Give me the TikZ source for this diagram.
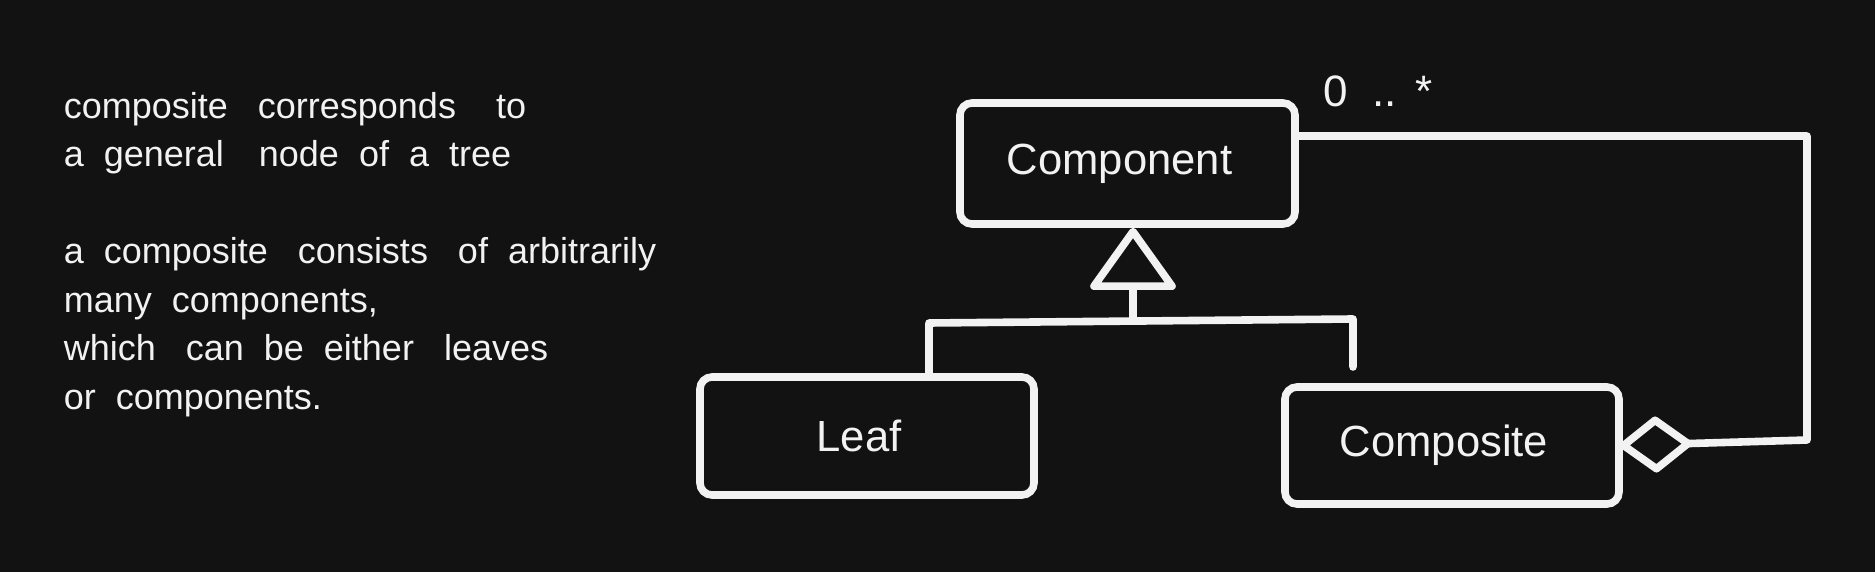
\documentclass[tikz,border=0pt]{standalone}
\usepackage{fontspec}
\setmainfont{Liberation Sans}
\usepackage{xcolor}
\usepackage{tikz}
\usetikzlibrary{arrows.meta,calc,positioning}
\definecolor{canvas}{HTML}{121212}
\definecolor{chalk}{HTML}{F2F2F2}
\tikzset{
    x=0.5pt,y=-0.5pt,
    class/.style ={draw=chalk, text=chalk, line width=3.8pt, rounded corners=6pt, inner sep=0pt,
        minimum width=167pt, minimum height=59pt,
        execute at begin node=\hspace*{-8pt},
        font=\fontsize{21.8pt}{26pt}\selectfont},
    note/.style = {text=chalk, align=left, inner sep=0pt,
        font=\fontsize{18pt}{24.25pt}\selectfont},
    mult/.style = {text=chalk, inner sep=0pt, font=\fontsize{22pt}{26pt}\selectfont},
    wire/.style = {draw=chalk, line width=3.8pt, line join=round, line cap=round},
    inherit/.style={wire,-{Triangle[open,length=32.5pt,width=45.5pt,round]},shorten >=0pt},
    aggregate/.style={wire,-{Diamond[open,length=38.5pt,width=29pt,round]},shorten >=-1.5pt}
}

\begin{document}
\begin{tikzpicture}
    \fill[canvas] (0,0) rectangle (1875,572);
    \useasboundingbox (0,0) rectangle (1875,572);
    % the explanation on the left
    \node (note) [note, anchor=north west] at (63.5,92) {composite\ \ \ corresponds\ \ \ \ to\\%
        a\ \ general\hspace{17.5pt}node\ \ of\ \ a\ \ tree\\[24.25pt]%
        a\ \ composite\ \ \ consists\ \ \ of\ \ arbitrarily\\%
        many\ \ components,\\%
        which\ \ \ can\ \ be\ \ either\ \ \ leaves\\%
        or\ \ components.};
    % the classes
    \node[class, minimum height=60.5pt, minimum width=167.5pt] (component) at (1127.5,163.5) {Component};
    \node[class] (leaf) at (867,436) {Leaf};
    \node[class, minimum height=58.5pt] (composite) at (1452,445.5) {Composite};
    \node[mult, anchor=base west] (multiplicity) at ([xshift=12.25pt,yshift=-3.5pt]component.north east) {0\ \ ..\hspace{9pt}*};
    % generalization
    \coordinate (gen join) at (1133,321);
    \coordinate (bar left) at (929,323);
    \coordinate (bar right) at (1353,319);
    \coordinate (bar end) at (1353,367);
    \draw[wire] (leaf.north -| bar left) -- (bar left) -- (bar right) -- (bar end);
    \draw[inherit] (gen join) -- (gen join |- component.south);
    % aggregation back to the component
    \coordinate (agg top) at (1807,136);
    \coordinate (agg bottom) at (1807,440);
    \draw[aggregate] ([yshift=13.75pt]component.east) -- (agg top) -- (agg bottom) -- (composite.east);
\end{tikzpicture}
\end{document}
